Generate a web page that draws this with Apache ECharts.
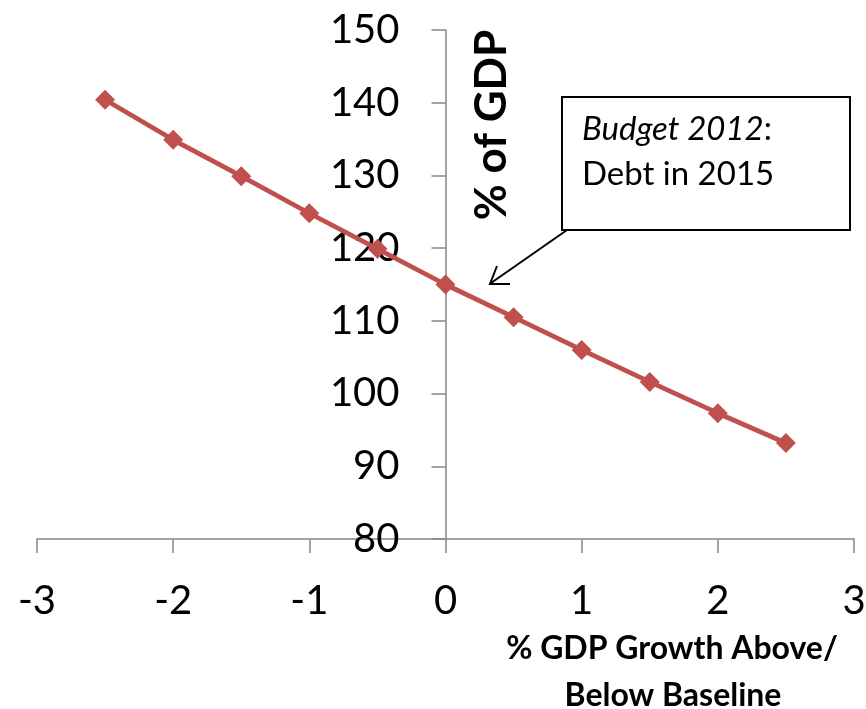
<!DOCTYPE html>
<html>
<head>
<meta charset="utf-8">
<script src="https://cdn.jsdelivr.net/npm/echarts@6/dist/echarts.min.js"></script>
<style>
  html, body { margin: 0; padding: 0; background: #fff; }
  #chart { width: 866px; height: 709px; }
</style>
</head>
<body>
<div id="chart"></div>
<script>
// Growth shock relative to baseline (percentage points)
const growthShift = [-2.5, -2, -1.5, -1, -0.5, 0, 0.5, 1, 1.5, 2, 2.5];
// Debt in 2015, % of GDP
const debtRatio = [140.4, 134.9, 129.9, 124.8, 119.9, 115.0, 110.5, 106.0, 101.6, 97.3, 93.2];

const xRange = { min: -3, max: 3, step: 1 };
const yRange = { min: 80, max: 150, step: 10 };

const yTitle = '% of GDP';
const xTitleLines = ['% GDP Growth Above/', 'Below Baseline'];
const noteTitle = 'Budget 2012';
const noteText = 'Debt in 2015';

const FONT = 'Lato, "Open Sans", sans-serif';
const AXIS_GREY = '#868686';
const SERIES_RED = '#C0504D';

const GRID = { left: 37, right: 12, top: 30, bottom: 170 };
const chartWidth = 866;
// the vertical axis sits where x = 0, carried there with its ticks and labels
const plotWidth = chartWidth - GRID.left - GRID.right;
const yAxisShift = -plotWidth * (0 - xRange.min) / (xRange.max - xRange.min);

const chart = echarts.init(document.getElementById('chart'), null, { renderer: 'canvas' });

chart.setOption({
  backgroundColor: '#ffffff',
  animation: false,
  grid: Object.assign({ containLabel: false, outerBoundsMode: 'none' }, GRID),
  xAxis: {
    type: 'value',
    min: xRange.min, max: xRange.max, interval: xRange.step,
    axisLine: { show: true, onZero: false, lineStyle: { color: AXIS_GREY, width: 1.5 } },
    axisTick: { show: true, length: 14, lineStyle: { color: AXIS_GREY, width: 1.5 } },
    axisLabel: { color: '#000', fontFamily: FONT, fontSize: 40, margin: 42 },
    splitLine: { show: false }
  },
  yAxis: {
    type: 'value',
    position: 'left',
    offset: yAxisShift,
    min: yRange.min, max: yRange.max, interval: yRange.step,
    axisLine: { show: true, onZero: false, lineStyle: { color: AXIS_GREY, width: 1.5 } },
    axisTick: { show: true, length: 14, lineStyle: { color: AXIS_GREY, width: 1.5 } },
    axisLabel: { color: '#000', fontFamily: FONT, fontSize: 40, margin: 46 },
    splitLine: { show: false }
  },
  series: [{
    type: 'line',
    data: growthShift.map((g, i) => [g, debtRatio[i]]),
    symbol: 'diamond',
    symbolSize: 20,
    lineStyle: { color: SERIES_RED, width: 4.75 },
    itemStyle: { color: SERIES_RED },
    z: 3
  }],
  graphic: [
    {
      type: 'text',
      x: 492, y: 125,
      rotation: Math.PI / 2,
      style: {
        text: yTitle,
        font: 'bold 44px ' + FONT,
        fill: '#000',
        align: 'center',
        verticalAlign: 'middle'
      }
    },
    {
      type: 'text',
      x: 672, y: 649,
      style: {
        text: xTitleLines[0],
        font: 'bold 32px ' + FONT,
        fill: '#000',
        align: 'center',
        verticalAlign: 'middle'
      }
    },
    {
      type: 'text',
      x: 673, y: 696,
      style: {
        text: xTitleLines[1],
        font: 'bold 32px ' + FONT,
        fill: '#000',
        align: 'center',
        verticalAlign: 'middle'
      }
    },
    {
      type: 'rect',
      shape: { x: 562, y: 97, width: 288, height: 133 },
      style: { fill: '#fff', stroke: '#000', lineWidth: 2 },
      z: 10
    },
    {
      type: 'text',
      x: 582, y: 129,
      z: 11,
      style: {
        text: '{i|' + noteTitle + '}{n|:}',
        fill: '#000',
        verticalAlign: 'middle',
        rich: {
          i: { fontStyle: 'italic', fontFamily: FONT, fontSize: 33, fill: '#000' },
          n: { fontFamily: FONT, fontSize: 33, fill: '#000' }
        }
      }
    },
    {
      type: 'text',
      x: 582, y: 174,
      z: 11,
      style: {
        text: noteText,
        font: '33px ' + FONT,
        fill: '#000',
        verticalAlign: 'middle'
      }
    },
    {
      type: 'line',
      shape: { x1: 567, y1: 230, x2: 491, y2: 283 },
      style: { stroke: '#000', lineWidth: 2 },
      z: 10
    },
    {
      type: 'polyline',
      shape: { points: [[510, 284], [490, 284], [497, 266]] },
      style: { stroke: '#000', lineWidth: 2, fill: null },
      z: 10
    }
  ]
});
</script>
</body>
</html>
